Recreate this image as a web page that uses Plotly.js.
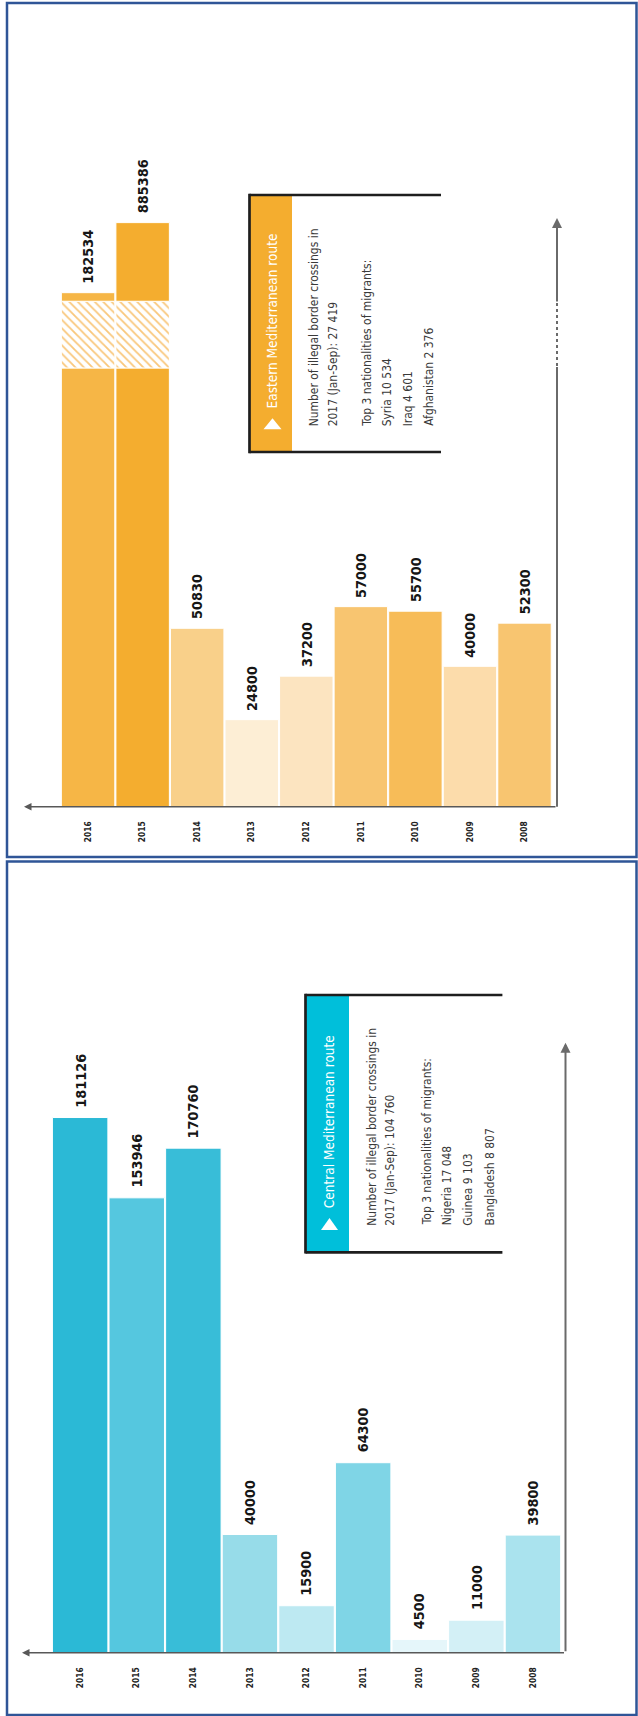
<!DOCTYPE html>
<html><head><meta charset="utf-8">
<script src="https://cdn.plot.ly/plotly-3.0.1.min.js"></script>
<style>html,body{margin:0;padding:0;background:#fff}#chart{width:638px;height:1716px}</style>
</head><body><div id="chart"></div>
<script>
// ---------------- data ----------------
const years = ['2016','2015','2014','2013','2012','2011','2010','2009','2008'];
const eastValues = [182534, 885386, 50830, 24800, 37200, 57000, 55700, 40000, 52300];
const centralValues = [181126, 153946, 170760, 40000, 15900, 64300, 4500, 11000, 39800];
const eastColors = ['#f6b646','#f4ad2f','#f9d08a','#fdeed5','#fce4c0','#f8c570','#f7bc58','#fcdcab','#f8c570'];
const centralColors = ['#2bb9d6','#55c7df','#38bdd8','#97dce9','#bde9f2','#7fd5e6','#e5f6fa','#d3f0f6','#aae3ee'];
const eastTitle = 'Eastern Mediterranean route';
const eastLines = ['Number of illegal border crossings in','2017 (Jan-Sep): 27 419','Top 3 nationalities of migrants:','Syria 10 534','Iraq 4 601','Afghanistan 2 376'];
const centralTitle = 'Central Mediterranean route';
const centralLines = ['Number of illegal border crossings in','2017 (Jan-Sep): 104 760','Top 3 nationalities of migrants:','Nigeria 17 048','Guinea 9 103','Bangladesh 8 807'];

// broken value axis of the eastern panel (display units of the y axis)
const EAST_BREAK = {start: 125000, end: 144000, refValue: 96500, scale: 0.0284};

// ---------------- helpers ----------------
const W = 638, H = 1716;
const px = x => x / W;
const py = y => 1 - y / H;

function hasFont(name){
  const c = document.createElement('canvas').getContext('2d');
  const s = 'mmmmmmmmmmlli0123456789WwQq';
  let diff = false;
  for (const base of ['monospace','serif']) {
    c.font = '72px ' + base; const a = c.measureText(s).width;
    c.font = `72px "${name}", ${base}`; const b = c.measureText(s).width;
    if (Math.abs(a-b) > 0.5) diff = true;
  }
  return diff;
}
const candidates = ['Liberation Sans Narrow','DejaVu Sans Condensed','Roboto Condensed','Arial Narrow','Open Sans Condensed'];
let FAM = 'Liberation Sans';
for (const c of candidates) { if (hasFont(c)) { FAM = c; break; } }
const FAMILY = `"${FAM}", "Liberation Sans", Arial, sans-serif`;

function fit(text, weight, target){
  const c = document.createElement('canvas').getContext('2d');
  c.font = `${weight} 100px ${FAMILY}`;
  return target / c.measureText(text).width * 100;
}
const valueSize = fit('885386', 700, 54);
const yearSize = fit('2016', 700, 21);
const headSize = fit(eastTitle, 400, 175);
const bodySize = fit(eastLines[0], 400, 198);

function eastDisplay(v){
  return v <= EAST_BREAK.start ? v : EAST_BREAK.end + (v - EAST_BREAK.refValue) * EAST_BREAK.scale;
}
const eastBroken = eastValues.map(v => v > EAST_BREAK.start);
const eastTop = eastValues.map(eastDisplay);

// ---------------- traces ----------------
const whiteLine = {color:'#ffffff', width:1};
const traces = [
  {type:'bar', x:years, y:eastValues.map((v,i)=>eastBroken[i]?EAST_BREAK.start:v), base:0,
   xaxis:'x', yaxis:'y', marker:{color:eastColors, line:whiteLine}, hoverinfo:'skip'},
  {type:'bar', x:years, y:eastValues.map((v,i)=>eastBroken[i]?EAST_BREAK.end-EAST_BREAK.start:null),
   base:EAST_BREAK.start, xaxis:'x', yaxis:'y',
   marker:{color:'#ffffff', line:whiteLine, pattern:{shape:'\\', fgcolor:'#f9c77b', bgcolor:'#ffffff', size:6, solidity:0.3}}, hoverinfo:'skip'},
  {type:'bar', x:years, y:eastValues.map((v,i)=>eastBroken[i]?eastTop[i]-EAST_BREAK.end:null),
   base:EAST_BREAK.end, xaxis:'x', yaxis:'y', marker:{color:eastColors, line:whiteLine}, hoverinfo:'skip'},
  {type:'bar', x:years, y:centralValues, base:0, xaxis:'x2', yaxis:'y2',
   marker:{color:centralColors, line:whiteLine}, hoverinfo:'skip'}
];

// ---------------- annotations ----------------
const ann = [];
years.forEach((yr,i)=>{
  ann.push({xref:'x', yref:'y', x:i, y:eastTop[i], text:String(eastValues[i]), showarrow:false,
    textangle:-90, xanchor:'center', yanchor:'bottom', yshift:8, borderpad:0,
    font:{family:FAMILY, size:valueSize, weight:700, color:'#161616'}});
  ann.push({xref:'x2', yref:'y2', x:i, y:centralValues[i], text:String(centralValues[i]), showarrow:false,
    textangle:-90, xanchor:'center', yanchor:'bottom', yshift:9, borderpad:0,
    font:{family:FAMILY, size:valueSize, weight:700, color:'#161616'}});
});
function arrow(tipX, tipY, tailX, tailY, w, col){
  return {xref:'paper', yref:'paper', x:px(tipX), y:py(tipY), ax:tailX-tipX, ay:tailY-tipY,
    text:'', showarrow:true, arrowhead:2, arrowsize:1, arrowwidth:w, arrowcolor:col, standoff:0, startstandoff:0};
}
ann.push(arrow(24, 806.7, 557, 806.7, 1.5, '#585858'));
ann.push(arrow(557, 218, 557, 303, 2, '#6a6a6a'));
ann.push(arrow(22, 1652.7, 565.5, 1652.7, 1.5, '#585858'));
ann.push(arrow(565.5, 1042.7, 565.5, 1652.7, 2, '#6a6a6a'));

// info boxes
function infoBox(o){
  ann.push({xref:'paper', yref:'paper', x:px(o.headX), y:py(o.headBottom), text:o.title, showarrow:false,
    textangle:-90, xanchor:'center', yanchor:'bottom', borderpad:0,
    font:{family:FAMILY, size:headSize, color:'#ffffff'}});
  o.lines.forEach((t,i)=>{
    ann.push({xref:'paper', yref:'paper', x:px(o.lineX[i]), y:py(o.textBottom), text:t, showarrow:false,
      textangle:-90, xanchor:'center', yanchor:'bottom', borderpad:0,
      font:{family:FAMILY, size:bodySize, color:'#3a3a3a'}});
  });
}
infoBox({title:eastTitle, lines:eastLines, headX:272, headBottom:410, textBottom:427.3,
  lineX:[314, 332.5, 367, 387, 407.5, 429.5]});
infoBox({title:centralTitle, lines:centralLines, headX:328.7, headBottom:1209, textBottom:1226.7,
  lineX:[372, 390.6, 427, 446.5, 468, 490.2]});

// ---------------- shapes ----------------
const shapes = [];
const frame = '#2f5597';
shapes.push({type:'rect', xref:'paper', yref:'paper', x0:px(7), x1:px(636.5), y0:py(3), y1:py(857), line:{color:frame, width:2.5}});
shapes.push({type:'rect', xref:'paper', yref:'paper', x0:px(7), x1:px(636.5), y0:py(861.5), y1:py(1715), line:{color:frame, width:2.5}});
function seg(x0,y0,x1,y1,w,col,dash){
  shapes.push({type:'line', xref:'paper', yref:'paper', x0:px(x0), y0:py(y0), x1:px(x1), y1:py(y1), line:{color:col, width:w, dash:dash||'solid'}});
}
seg(557, 303, 557, 367, 2, '#6a6a6a', 'dot');
seg(557, 367, 557, 806.7, 2, '#6a6a6a');

function boxShapes(b){
  shapes.push({type:'rect', xref:'paper', yref:'paper', x0:px(b.left), x1:px(b.stripRight), y0:py(b.top), y1:py(b.bottom), line:{width:0}, fillcolor:b.color, layer:'below'});
  seg(b.left, b.top-1.3, b.left, b.bottom+1.3, 2.7, '#1e1e1e');
  seg(b.left, b.top, b.right, b.top, 2.7, '#1e1e1e');
  seg(b.left, b.bottom, b.right, b.bottom, 2.7, '#1e1e1e');
  const t = b.tri;
  shapes.push({type:'path', xref:'paper', yref:'paper',
    path:`M ${px(t[0])} ${py(t[3])} L ${px(t[1])} ${py(t[3])} L ${px((t[0]+t[1])/2)} ${py(t[2])} Z`,
    fillcolor:'#ffffff', line:{width:0}});
}
boxShapes({left:249.5, stripRight:292, right:441, top:195, bottom:452, color:'#f4ad2f', tri:[263.5,281.5,418.3,429.3]});
boxShapes({left:305.5, stripRight:349, right:502.4, top:995, bottom:1252.3, color:'#00bfda', tri:[321,338,1218,1230]});

// ---------------- layout ----------------
const tickCommon = {type:'category', range:[-0.5,8.5], tickangle:-90, showgrid:false, zeroline:false, showline:false,
  ticks:'', ticklabelstandoff:12, tickfont:{family:FAMILY, size:yearSize, weight:700, color:'#222222'}, fixedrange:true};
const yCommon = {showgrid:false, zeroline:false, showline:false, showticklabels:false, ticks:'', fixedrange:true};
const layout = {
  width:W, height:H, margin:{l:0,r:0,t:0,b:0}, paper_bgcolor:'#ffffff', plot_bgcolor:'rgba(0,0,0,0)',
  barmode:'overlay', bargap:0.02, showlegend:false,
  xaxis: Object.assign({}, tickCommon, {domain:[60.8/W, 551.8/W], anchor:'y'}),
  yaxis: Object.assign({}, yCommon, {domain:[py(806.7), py(200)], range:[0, 606.7/0.00351], anchor:'x'}),
  xaxis2: Object.assign({}, tickCommon, {domain:[51.85/W, 561.25/W], anchor:'y2'}),
  yaxis2: Object.assign({}, yCommon, {domain:[py(1652.7), py(1000)], range:[0, 652.7/0.0029547], anchor:'x2'}),
  annotations: ann, shapes: shapes
};
Plotly.newPlot('chart', traces, layout, {staticPlot:true, displayModeBar:false});
</script></body></html>
